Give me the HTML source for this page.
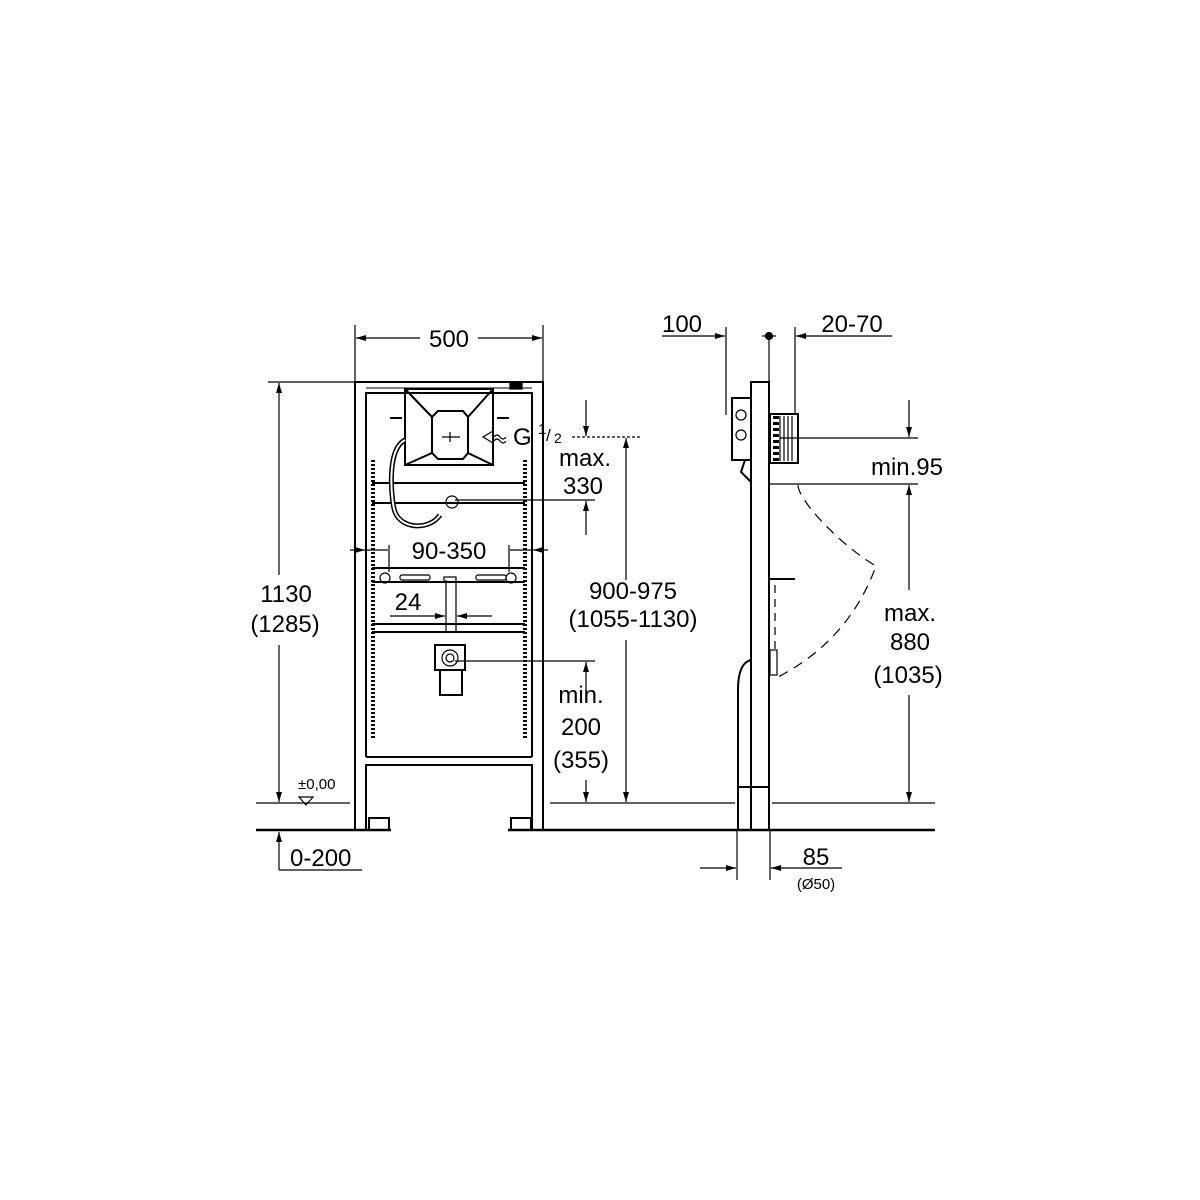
<!DOCTYPE html>
<html><head><meta charset="utf-8"><style>
html,body{margin:0;padding:0;background:#fff}
svg{display:block}
text{font-family:"Liberation Sans",sans-serif;fill:#000}
</style></head><body>
<svg width="1200" height="1200" viewBox="0 0 1200 1200" xmlns="http://www.w3.org/2000/svg">
<defs>
<marker id="a" viewBox="0 0 10 6" refX="10" refY="3" markerWidth="14" markerHeight="6" markerUnits="userSpaceOnUse" orient="auto"><path d="M0,0L10,3L0,6z" fill="#000"/></marker>
</defs>
<g stroke="#000" fill="none" stroke-width="1.2">
<line x1="355" y1="325" x2="355" y2="382"/><line x1="543" y1="325" x2="543" y2="382"/>
<line x1="420" y1="338" x2="356" y2="338" marker-end="url(#a)"/><line x1="478" y1="338" x2="542" y2="338" marker-end="url(#a)"/>
<line x1="268" y1="382" x2="355" y2="382"/>
<line x1="279" y1="575" x2="279" y2="383" marker-end="url(#a)"/><line x1="279" y1="645" x2="279" y2="802" marker-end="url(#a)"/>
<line x1="256" y1="803" x2="350" y2="803"/>
<path d="M299,797h14l-7,8z"/>
<line x1="256" y1="830" x2="391" y2="830" stroke-width="2.4"/>
<line x1="508" y1="830" x2="935" y2="830" stroke-width="2.4"/>
<line x1="279" y1="870" x2="279" y2="832" marker-end="url(#a)"/><line x1="279" y1="870" x2="362" y2="870"/>

<g stroke-width="2">
<path d="M355,830V382H543V830"/>
<path d="M366,830V765H532V830"/>
<path d="M366,757V393H532V757"/>
<path d="M366,757H532"/>
<rect x="369" y="818" width="20" height="12"/><rect x="511" y="818" width="20" height="12"/>
<path d="M366,393H405M493,393H532"/>
<path d="M405,389V465H493V389Z"/>
<path d="M432,417L438,411H463L468,417V453L463,459H438L432,453Z"/>
<path d="M405,389L432,417M493,389L468,417M405,465L432,453M493,465L468,453"/>
<path d="M372,483H525M372,503H525"/>
<path d="M372,568H525M372,582H525"/>
<path d="M372,624H525M372,632H525"/>
<rect x="435" y="645" width="30" height="25"/>
<rect x="440" y="670" width="22" height="25"/>
<path d="M405,440C385,450 392,505 395,512C402,530 430,530 440,515" stroke-width="5"/>
<path d="M405,440C385,450 392,505 395,512C402,530 430,530 440,515" stroke="#fff" stroke-width="2"/>
</g>
<circle cx="450" cy="658" r="8"/><circle cx="450" cy="658" r="4"/>
<circle cx="452" cy="502" r="6"/><circle cx="385" cy="578" r="5"/><circle cx="511" cy="578" r="5"/>
<rect x="400" y="575" width="30" height="5" rx="2"/><rect x="476" y="575" width="30" height="5" rx="2"/>
<rect x="444" y="577" width="12" height="5"/>
<path d="M366,388H532" stroke-width="1"/>
<line x1="373" y1="460" x2="373" y2="740" stroke-width="4" stroke-dasharray="2,2"/>
<line x1="525" y1="460" x2="525" y2="740" stroke-width="4" stroke-dasharray="2,2"/>
<rect x="510" y="383" width="12" height="6" fill="#000"/>
<path d="M390,418h12M497,418h12" stroke-width="2"/>
<path d="M442,437h18M450,432v10"/>
<path d="M483,437l10,-6v12z"/>
<path d="M494,437q3,-4 6,0t6,0 M494,441q3,-4 6,0t6,0"/>
<line x1="572" y1="437" x2="640" y2="437" stroke-dasharray="3,2"/>
<line x1="586" y1="400" x2="586" y2="436" marker-end="url(#a)"/>
<line x1="455" y1="500" x2="595" y2="500"/>
<line x1="586" y1="535" x2="586" y2="501" marker-end="url(#a)"/>
<line x1="626" y1="580" x2="626" y2="438" marker-end="url(#a)"/><line x1="626" y1="640" x2="626" y2="802" marker-end="url(#a)"/>
<line x1="455" y1="661" x2="595" y2="661"/>
<line x1="586" y1="700" x2="586" y2="662" marker-end="url(#a)"/>
<line x1="586" y1="780" x2="586" y2="802" marker-end="url(#a)"/>
<line x1="550" y1="803" x2="735" y2="803"/><line x1="772" y1="803" x2="935" y2="803"/>
<line x1="350" y1="550" x2="365" y2="550" marker-end="url(#a)"/><line x1="366" y1="550" x2="388" y2="550"/>
<line x1="548" y1="550" x2="533" y2="550" marker-end="url(#a)"/><line x1="532" y1="550" x2="510" y2="550"/>
<line x1="389" y1="545" x2="389" y2="572"/><line x1="509" y1="545" x2="509" y2="572"/>
<line x1="446" y1="580" x2="446" y2="632"/><line x1="456" y1="580" x2="456" y2="632"/>
<line x1="390" y1="616" x2="445" y2="616" marker-end="url(#a)"/><line x1="492" y1="616" x2="457" y2="616" marker-end="url(#a)"/>

<g stroke-width="2">
<path d="M751,830V382H769V830"/>
<path d="M751,398H732V460H751"/>
<path d="M745,460L741,472L751,482"/>
<rect x="770" y="414" width="28" height="49"/>
<path d="M751,660C742,662 738,672 738,690V830M738,787H769"/>
</g>
<line x1="776" y1="416" x2="776" y2="461" stroke-width="6" stroke-dasharray="3,3"/>
<path d="M780,416V461M784,416V461M788,416V461M792,416V461M780,438H797"/>
<circle cx="741" cy="415" r="5"/><circle cx="741" cy="435" r="5"/>
<line x1="770" y1="579" x2="795" y2="579" stroke-width="2"/>
<line x1="775" y1="585" x2="775" y2="650" stroke-dasharray="8,6"/>
<rect x="770" y="650" width="7" height="25"/>
<path d="M798,485C798,500 840,545 876,566C860,610 830,650 778,677" stroke-dasharray="10,7"/>
<line x1="726" y1="327" x2="726" y2="415"/><line x1="795" y1="327" x2="795" y2="414"/>
<line x1="662" y1="336" x2="725" y2="336" marker-end="url(#a)"/>
<line x1="892" y1="336" x2="796" y2="336" marker-end="url(#a)"/>
<line x1="769" y1="336" x2="769" y2="382"/>
<path d="M762,336h14"/><circle cx="769" cy="336" r="3.5" fill="#000"/>
<line x1="798" y1="438" x2="918" y2="438"/><line x1="769" y1="484" x2="918" y2="484"/>
<line x1="909" y1="400" x2="909" y2="437" marker-end="url(#a)"/>
<line x1="909" y1="590" x2="909" y2="485" marker-end="url(#a)"/>
<line x1="909" y1="695" x2="909" y2="802" marker-end="url(#a)"/>
<line x1="737" y1="830" x2="737" y2="880"/><line x1="770" y1="830" x2="770" y2="880"/>
<line x1="700" y1="868" x2="736" y2="868" marker-end="url(#a)"/>
<line x1="842" y1="868" x2="771" y2="868" marker-end="url(#a)"/>
</g>
<g font-size="24">
<text x="449" y="347" text-anchor="middle">500</text>
<text x="286" y="602" text-anchor="middle">1130</text>
<text x="285" y="632" text-anchor="middle">(1285)</text>
<text x="298" y="789" font-size="15">±0,00</text>
<text x="290" y="866">0-200</text>
<text x="513" y="445" font-size="24">G</text>
<text x="538" y="434" font-size="15">1</text>
<text x="546" y="441" font-size="17">/</text>
<text x="554" y="443" font-size="14">2</text>
<text x="585" y="466" text-anchor="middle">max.</text>
<text x="583" y="494" text-anchor="middle">330</text>
<text x="449" y="559" text-anchor="middle">90-350</text>
<text x="408" y="610" text-anchor="middle">24</text>
<text x="633" y="599" text-anchor="middle">900-975</text>
<text x="633" y="627" text-anchor="middle">(1055-1130)</text>
<text x="581" y="703" text-anchor="middle">min.</text>
<text x="581" y="735" text-anchor="middle">200</text>
<text x="581" y="768" text-anchor="middle">(355)</text>
<text x="682" y="332" text-anchor="middle">100</text>
<text x="852" y="332" text-anchor="middle">20-70</text>
<text x="943" y="475" text-anchor="end">min.95</text>
<text x="910" y="621" text-anchor="middle">max.</text>
<text x="910" y="650" text-anchor="middle">880</text>
<text x="908" y="683" text-anchor="middle">(1035)</text>
<text x="816" y="865" text-anchor="middle">85</text>
<text x="816" y="889" text-anchor="middle" font-size="15">(Ø50)</text>
</g>
</svg>
</body></html>
